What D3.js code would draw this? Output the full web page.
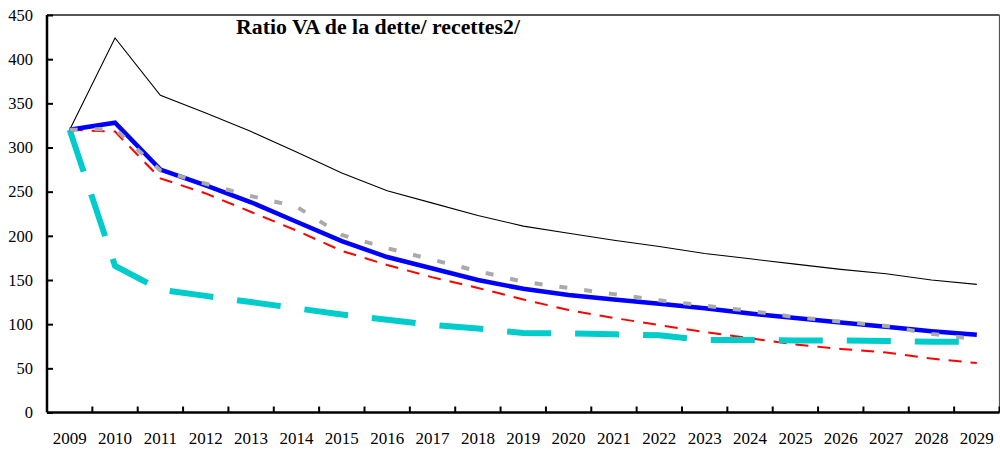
<!DOCTYPE html>
<html><head><meta charset="utf-8">
<script src="https://cdn.jsdelivr.net/npm/d3@7"></script>
<style>body{margin:0;background:#fff}svg{display:block}text{font-family:"Liberation Serif","Times New Roman",serif}</style>
</head><body>
<svg id="c" width="1000" height="451"></svg>
<script>
const years = ["2009","2010","2011","2012","2013","2014","2015","2016","2017","2018","2019","2020","2021","2022","2023","2024","2025","2026","2027","2028","2029"];
const seriesBlack = [320,424,359,339,318,295,271,251,237,223,211,203,195,188,180,174,168,162,157,150,145];
const seriesRed   = [320,318,265,248,227,206,183,167,153,141,128,116,107,99,91,84,77,72,68,61,56];
const seriesCyan  = [320,166,139,132,125,118,111,105,99,95,90,89.5,88.5,87.5,82,82,81.5,81.5,81,80,80];
const seriesBlue  = [320,328,275,257,238,216,194,176,163,150,140,133,128,123,118,112,107,102,97,92,88];
const seriesGrey  = [320,321,274,259,245,233,201,186,173,160,148,141,134,127,121,115,108,103,98,89,83];
const yTicks = [0,50,100,150,200,250,300,350,400,450];
const title = "Ratio VA de la dette/ recettes2/";

const svg = d3.select("#c");
const L=47, R=999.5, T=15, B=412.5;
const x = d3.scaleBand().domain(years).range([L,R]);
const y = d3.scaleLinear().domain([0,450]).range([B,T]);
const cx = d => x(d)+x.bandwidth()/2;

svg.append("line").attr("x1",L).attr("x2",R).attr("y1",T).attr("y2",T).attr("stroke","#555").attr("stroke-width",2);
svg.append("line").attr("x1",R).attr("x2",R).attr("y1",T).attr("y2",B).attr("stroke","#555").attr("stroke-width",1.2);

const gy = svg.append("g").attr("transform",`translate(${L},0)`)
  .call(d3.axisLeft(y).tickValues(yTicks).tickSize(-6).tickPadding(14).tickFormat(d3.format("d")));
const gx = svg.append("g").attr("transform",`translate(0,${B})`)
  .call(d3.axisBottom(x).tickSize(-6).tickPadding(0).tickFormat(()=>""));
gx.selectAll(".tick").remove();
years.slice(1).forEach(yr=>{
  gx.append("line").attr("x1",x(yr)).attr("x2",x(yr)).attr("y1",0).attr("y2",-6).attr("stroke","#000").attr("stroke-width",2);
});
gx.append("line").attr("x1",R).attr("x2",R).attr("y1",0).attr("y2",-6).attr("stroke","#000").attr("stroke-width",2);
gx.selectAll(".lbl").data(years).enter().append("text").attr("class","lbl")
  .attr("x",d=>cx(d)).attr("y",31.5).attr("text-anchor","middle").attr("font-size",17).attr("font-weight",400).attr("fill","#000").text(d=>d);
[gx,gy].forEach(g=>{
  g.select(".domain").attr("stroke","#000").attr("stroke-width",2.5);
  g.selectAll(".tick line").attr("stroke","#000").attr("stroke-width",2);
  g.selectAll(".tick text").attr("font-size",16.5).attr("font-weight",400).attr("fill","#000").style("font-family","Liberation Serif");
});
gx.select(".domain").attr("d",`M${L},0H${R}`);
gy.select(".domain").attr("d",`M0,${B}V${T}`);

const line = d3.line().x((d,i)=>cx(years[i])).y(d=>y(d));
const draw = (data,color,w,dash)=>svg.append("path").datum(data).attr("d",line)
  .attr("fill","none").attr("stroke",color).attr("stroke-width",w)
  .attr("stroke-dasharray",dash||null).attr("stroke-linejoin","miter");

draw(seriesBlack,"#000",1.1);
draw(seriesRed,"#ff0000",2,"13,9");
draw(seriesCyan,"#00cccc",6,"44,24");
draw(seriesBlue,"#0000ff",4.5);
draw(seriesGrey,"#aaaaaa",4,"8,17");

svg.append("text").attr("x",236).attr("y",34).attr("font-size",20).attr("font-weight","bold").attr("fill","#000")
  .attr("textLength",284).attr("lengthAdjust","spacingAndGlyphs").text(title);
</script>
</body></html>
